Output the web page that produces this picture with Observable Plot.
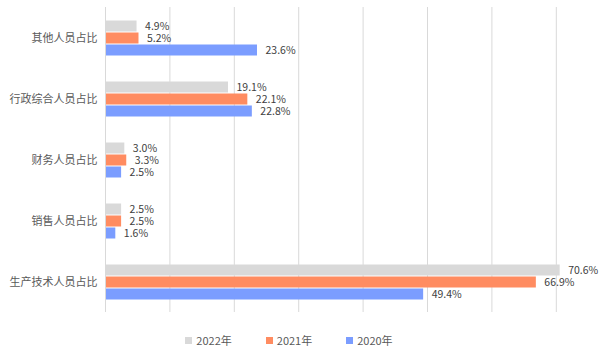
<!DOCTYPE html>
<html>
<head>
<meta charset="utf-8">
<script src="https://cdn.jsdelivr.net/npm/d3@7"></script>
<script src="https://cdn.jsdelivr.net/npm/@observablehq/plot@0.6"></script>
<style>
  body { margin: 0; background: #fff; font-family: "Noto Sans CJK SC", "Noto Sans", sans-serif; }
  #legend { display: flex; justify-content: center; gap: 34px; margin-top: 13px; font-size: 11px; color: #595959; line-height: 14px; padding-right: 22px; }
  #legend .item { display: flex; align-items: center; gap: 4px; }
  #legend .sw { width: 7px; height: 7px; display: inline-block; }
</style>
</head>
<body>
<div id="chart"></div>
<div id="legend"></div>
<script>
const categories = ["其他人员占比", "行政综合人员占比", "财务人员占比", "销售人员占比", "生产技术人员占比"];
const years = ["2022年", "2021年", "2020年"];
const v2022 = [4.9, 19.1, 3.0, 2.5, 70.6];
const v2021 = [5.2, 22.1, 3.3, 2.5, 66.9];
const v2020 = [23.6, 22.8, 2.5, 1.6, 49.4];
const gridTicks = [10, 20, 30, 40, 50, 60, 70];
const colors = ["#d9d9d9", "#ff8c61", "#7b9dff"];

const seriesValues = [v2022, v2021, v2020];
const rows = [];
categories.forEach((c, i) => {
  years.forEach((y, j) => rows.push({category: c, year: y, value: seriesValues[j][i]}));
});

const chart = Plot.plot({
  width: 600,
  height: 320,
  marginTop: 5,
  marginBottom: 7,
  marginLeft: 105,
  marginRight: 40,
  style: {fontFamily: "'Noto Sans CJK SC', sans-serif", fontSize: "11px", color: "#595959", background: "transparent"},
  facet: {data: rows, y: "category"},
  fy: {domain: categories, padding: 0, label: null, axis: "left", tickSize: 0, tickPadding: 8},
  y: {domain: years, paddingInner: 0, paddingOuter: 0.925, axis: null},
  x: {domain: [0, 70.65], axis: null},
  color: {domain: years, range: colors},
  marks: [
    Plot.ruleX(gridTicks, {stroke: "#d9d9d9", strokeWidth: 1}),
    Plot.barX(rows, {x: "value", y: "year", fill: "year", insetTop: 0.5, insetBottom: 0.5}),
    Plot.ruleX([0], {stroke: "#d9d9d9", strokeWidth: 1}),
    Plot.text(rows, {x: "value", y: "year", text: d => d.value.toFixed(1) + "%", dx: 8, textAnchor: "start", fill: "#404040", fontSize: 10.5})
  ]
});
document.getElementById("chart").append(chart);

const legend = document.getElementById("legend");
years.forEach((y, j) => {
  const it = document.createElement("span");
  it.className = "item";
  it.innerHTML = `<span class="sw" style="background:${colors[j]}"></span><span>${y}</span>`;
  legend.append(it);
});
</script>
</body>
</html>
